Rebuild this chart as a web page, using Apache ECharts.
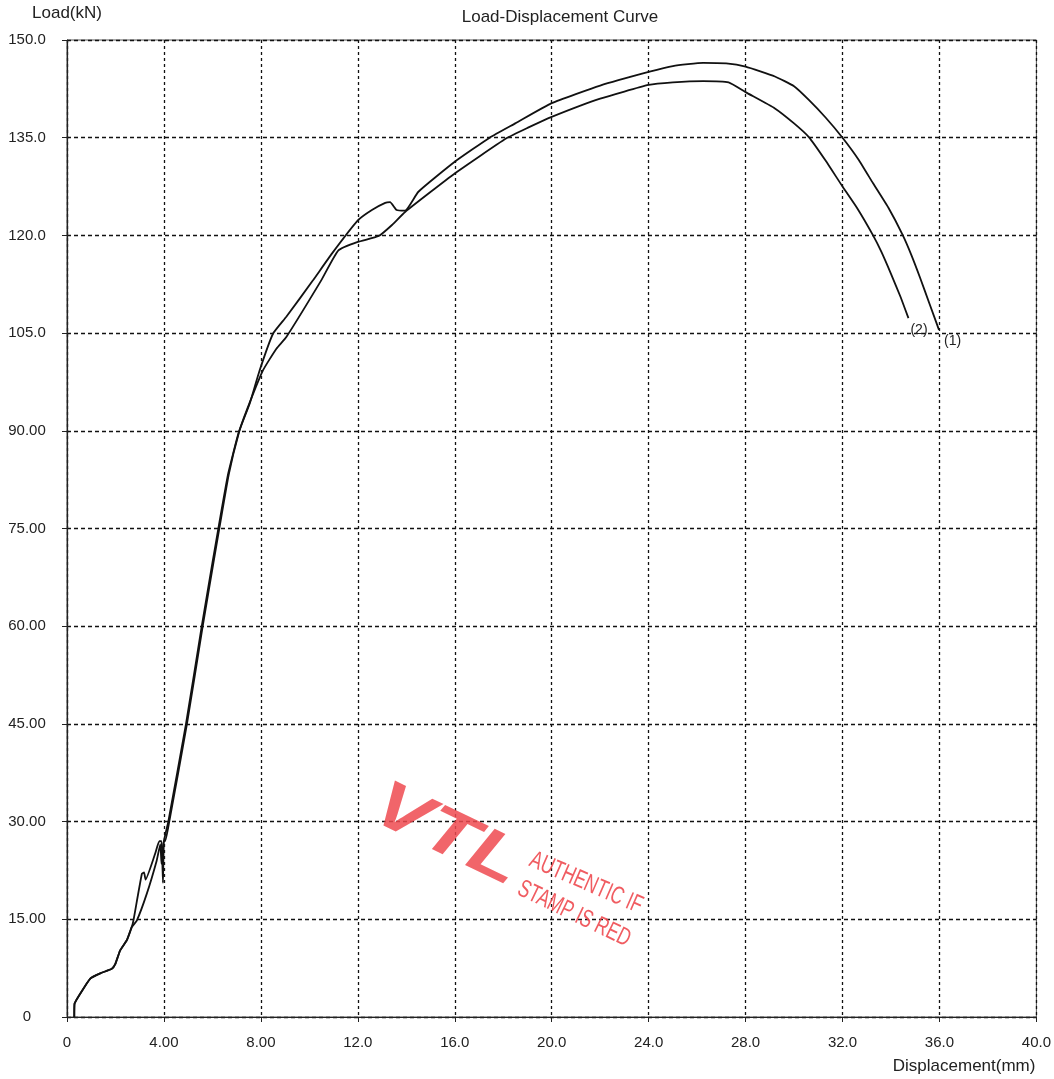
<!DOCTYPE html>
<html>
<head>
<meta charset="utf-8">
<script src="https://cdn.jsdelivr.net/npm/echarts@6/dist/echarts.min.js"></script>
<style>
html,body{margin:0;padding:0;background:#fff;}
#chart{width:1054px;height:1079px;}
</style>
</head>
<body>
<div id="chart"></div>
<script>
// Tick labels
var xTickLabels = ['0','4.00','8.00','12.0','16.0','20.0','24.0','28.0','32.0','36.0','40.0'];
var yTickLabels = ['0','15.00','30.00','45.00','60.00','75.00','90.00','105.0','120.0','135.0','150.0'];

// Specimen (1): [displacement mm, load kN]
var curve1 = [
  [0.30,0],[0.31,2.0],[0.55,3.6],[0.96,5.9],[1.37,6.7],[1.85,7.4],[1.99,8.1],[2.19,10.2],
  [2.47,11.8],[2.67,13.8],[2.74,14.8],[3.09,22.0],[3.18,22.2],[3.24,21.1],[3.63,25.0],
  [3.81,27.0],[3.90,27.0],[3.96,20.6],[4.00,27.0],[4.18,30.0],[4.91,45.0],[5.56,60.0],
  [6.00,69.7],[6.24,74.9],[6.65,83.4],[7.09,89.8],[7.54,94.2],[7.95,99.3],[8.50,104.9],
  [9.05,107.5],[10.15,113.1],[10.93,117.2],[12.00,122.3],[12.58,123.9],[13.13,125.0],
  [13.33,125.1],[13.60,123.9],[13.95,123.8],[14.50,126.7],[16.00,131.3],[17.44,135.0],
  [18.50,137.2],[20.00,140.3],[22.00,143.0],[24.00,145.1],[25.00,146.0],[26.25,146.5],
  [27.20,146.4],[28.00,145.9],[29.21,144.4],[30.00,142.9],[30.61,140.8],[31.30,138.1],
  [32.00,135.0],[32.65,131.7],[33.26,128.0],[33.90,124.2],[34.49,120.0],[34.85,116.9],
  [35.20,113.5],[35.60,109.4],[35.98,105.5]
];

// Specimen (2): [displacement mm, load kN]
var curve2 = [
  [0.30,0],[0.31,2.0],[0.55,3.6],[0.96,5.9],[1.37,6.7],[1.85,7.4],[1.99,8.1],[2.19,10.2],
  [2.47,11.8],[2.67,13.8],[2.88,14.8],[3.29,18.9],[3.70,24.0],[3.85,26.5],[3.90,23.5],
  [3.98,27.0],[4.05,27.0],[4.22,30.0],[4.95,45.0],[5.60,60.0],[6.04,69.7],[6.28,74.9],
  [6.68,83.4],[7.10,89.8],[7.41,93.1],[8.09,99.3],[8.64,102.6],[9.05,104.4],[10.49,113.1],
  [11.20,117.7],[12.00,119.0],[12.86,119.9],[13.41,121.6],[13.95,123.6],[16.00,129.5],
  [18.13,134.9],[19.00,136.5],[20.00,138.2],[22.00,141.0],[24.00,143.1],[25.00,143.5],
  [26.25,143.7],[27.30,143.5],[28.00,142.0],[29.21,139.5],[30.00,137.2],[30.61,135.1],
  [31.30,131.5],[32.00,127.5],[32.60,124.2],[33.26,120.0],[33.60,117.5],[34.00,114.1],
  [34.40,110.5],[34.72,107.3]
];

var font = '"Liberation Sans", Arial, sans-serif';
var chart = echarts.init(document.getElementById('chart'));
chart.setOption({
  backgroundColor: '#ffffff',
  animation: false,
  title: {
    text: 'Load-Displacement Curve',
    left: 555, top: 4, textAlign: 'center',
    textStyle: {fontSize: 17, fontWeight: 'normal', color: '#222', fontFamily: font}
  },
  grid: {left: 67, right: 17, top: 40, bottom: 62, show: true, borderColor: '#555', borderWidth: 1, backgroundColor: 'transparent'},
  xAxis: {
    type: 'value', min: 0, max: 40, interval: 4,
    name: 'Displacement(mm)', nameLocation: 'end', nameGap: 0,
    nameTextStyle: {fontSize: 17, color: '#222', fontFamily: font, align: 'right', verticalAlign: 'top', padding: [41, 1, 0, 0]},
    axisLine: {show: true, onZero: false, lineStyle: {color: '#222', width: 1.2}},
    axisTick: {show: true, length: 5, lineStyle: {color: '#222'}},
    axisLabel: {margin: 18, fontSize: 15, color: '#222', fontFamily: font,
      formatter: function (v) { return xTickLabels[Math.round(v / 4)]; }},
    splitLine: {show: true, lineStyle: {color: '#111', width: 1.3, type: [3, 3]}}
  },
  yAxis: {
    type: 'value', min: 0, max: 150, interval: 15,
    name: 'Load(kN)', nameLocation: 'end', nameGap: 27,
    nameTextStyle: {fontSize: 17, color: '#222', fontFamily: font, align: 'center', verticalAlign: 'middle'},
    axisLine: {show: true, onZero: false, lineStyle: {color: '#222', width: 1.2}},
    axisTick: {show: true, length: 5, lineStyle: {color: '#222'}},
    axisLabel: {margin: 40, align: 'center', fontSize: 15, color: '#222', fontFamily: font,
      formatter: function (v) { return yTickLabels[Math.round(v / 15)]; }},
    splitLine: {show: true, lineStyle: {color: '#111', width: 1.3, type: [4, 3]}}
  },
  series: [
    {
      name: '(1)', type: 'line', data: curve1, showSymbol: false, smooth: 0.15,
      lineStyle: {color: '#111', width: 1.8},
      endLabel: {show: true, formatter: '(1)', color: '#222', fontSize: 14, fontFamily: font, offset: [-3, 11]}
    },
    {
      name: '(2)', type: 'line', data: curve2, showSymbol: false, smooth: 0.15,
      lineStyle: {color: '#111', width: 1.8},
      endLabel: {show: true, formatter: '(2)', color: '#222', fontSize: 14, fontFamily: font, offset: [-6, 12]}
    }
  ],
  graphic: [
    {type: 'text', x: 447, y: 836, rotation: -0.45, scaleX: 1.25, z: 10,
      style: {text: 'VTL', font: 'italic bold 66px "Liberation Sans", Arial', fill: '#ee4a50', opacity: 0.85, align: 'center', verticalAlign: 'middle'}},
    {type: 'text', x: 586, y: 883, rotation: -0.41, scaleX: 0.7, z: 10,
      style: {text: 'AUTHENTIC IF', font: '500 25px "Liberation Sans", Arial', fill: '#ee4a50', opacity: 0.9, align: 'center', verticalAlign: 'middle'}},
    {type: 'text', x: 574, y: 914, rotation: -0.45, scaleX: 0.7, z: 10,
      style: {text: 'STAMP IS RED', font: '500 25px "Liberation Sans", Arial', fill: '#ee4a50', opacity: 0.9, align: 'center', verticalAlign: 'middle'}}
  ]
});
</script>
</body>
</html>
